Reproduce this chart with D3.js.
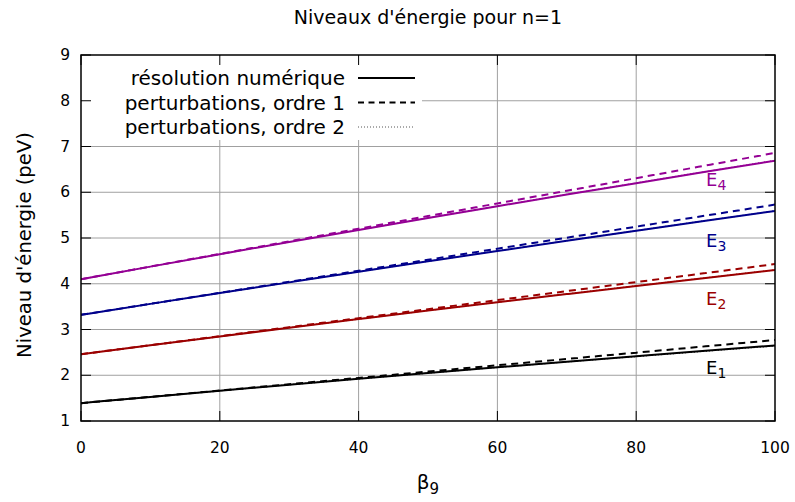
<!DOCTYPE html>
<html><head><meta charset="utf-8">
<script src="https://cdn.jsdelivr.net/npm/d3@7"></script>
<style>body{margin:0;background:#fff}svg{display:block}text{font-family:"DejaVu Sans",sans-serif}</style>
</head><body><svg id="c" width="795" height="502"></svg>
<script>
const beta = [0,10,20,30,40,50,60,70,80,90,100];
const xTicks = [0,20,40,60,80,100];
const yTicks = [1,2,3,4,5,6,7,8,9];
// résolution numérique
const numE1 = [1.39,1.527,1.661,1.793,1.923,2.05,2.175,2.297,2.417,2.535,2.65];
const numE2 = [2.46,2.656,2.849,3.039,3.227,3.413,3.595,3.775,3.953,4.128,4.30];
const numE3 = [3.32,3.560,3.796,4.030,4.262,4.490,4.716,4.938,5.158,5.376,5.59];
const numE4 = [4.10,4.374,4.645,4.913,5.177,5.438,5.695,5.949,6.199,6.446,6.69];
// perturbations, ordre 1
const p1E1 = [1.39,1.528,1.666,1.804,1.942,2.08,2.218,2.356,2.494,2.632,2.77];
const p1E2 = [2.46,2.657,2.854,3.051,3.248,3.445,3.642,3.839,4.036,4.233,4.43];
const p1E3 = [3.32,3.561,3.802,4.043,4.284,4.525,4.766,5.007,5.248,5.489,5.73];
const p1E4 = [4.10,4.376,4.652,4.928,5.204,5.48,5.756,6.032,6.308,6.584,6.86];
// perturbations, ordre 2
const p2E1 = [1.39,1.527,1.661,1.792,1.921,2.047,2.170,2.292,2.411,2.527,2.64];
const p2E2 = [2.46,2.656,2.849,3.040,3.228,3.414,3.597,3.777,3.955,4.130,4.302];
const p2E3 = [3.32,3.560,3.797,4.031,4.263,4.492,4.718,4.941,5.161,5.379,5.594];
const p2E4 = [4.10,4.374,4.646,4.914,5.179,5.440,5.698,5.953,6.204,6.452,6.696];
const levels = ["1","2","3","4"];
const colors = ["#000000","#9b0000","#00008b","#940094"];
const labelY = [2.18,3.69,4.96,6.28];
const legendLabels = ["résolution numérique","perturbations, ordre 1","perturbations, ordre 2"];

const svg = d3.select("#c");
const L=81,R=775,T=55,B=421;
const x = d3.scaleLinear().domain([0,100]).range([L,R]);
const y = d3.scaleLinear().domain([1,9]).range([B,T]);

// grid
const g = svg.append("g");
g.selectAll("line.vx").data(xTicks.slice(1,-1)).join("line")
 .attr("x1",d=>x(d)).attr("x2",d=>x(d)).attr("y1",T).attr("y2",B)
 .attr("stroke","#a0a0a0").attr("stroke-width",1);
g.selectAll("line.hy").data(yTicks.slice(1,-1)).join("line")
 .attr("y1",d=>y(d)).attr("y2",d=>y(d)).attr("x1",L).attr("x2",R)
 .attr("stroke","#a0a0a0").attr("stroke-width",1);

// curves
const line = d3.line().x((d,i)=>x(beta[i])).y(d=>y(d)).curve(d3.curveMonotoneX);
svg.append("clipPath").attr("id","cp").append("rect").attr("x",L).attr("y",T).attr("width",R-L).attr("height",B-T);
const cg = svg.append("g").attr("clip-path","url(#cp)");
const p2=[p2E1,p2E2,p2E3,p2E4], p1=[p1E1,p1E2,p1E3,p1E4], nm=[numE1,numE2,numE3,numE4];
p2.forEach((s,i)=>cg.append("path").attr("d",line(s)).attr("fill","none").attr("stroke",colors[i]).attr("stroke-width",1.2).attr("stroke-dasharray","1,2"));
p1.forEach((s,i)=>cg.append("path").attr("d",line(s)).attr("fill","none").attr("stroke",colors[i]).attr("stroke-width",2).attr("stroke-dasharray","7,5"));
nm.forEach((s,i)=>cg.append("path").attr("d",line(s)).attr("fill","none").attr("stroke",colors[i]).attr("stroke-width",2));

// legend box
svg.append("rect").attr("x",L+1).attr("y",T+1).attr("width",340).attr("height",84).attr("fill","#fff");
const styles=[{w:2,da:null,c:"#000"},{w:2,da:"6,4.5",c:"#000"},{w:1,da:"1,2",c:"#555"}];
legendLabels.forEach((t,i)=>{
  const yy=78+i*24.5;
  svg.append("text").attr("x",345).attr("y",yy).attr("text-anchor","end").attr("dominant-baseline","central").attr("font-size",20).text(t);
  svg.append("line").attr("x1",358).attr("x2",415).attr("y1",yy).attr("y2",yy)
    .attr("stroke",styles[i].c).attr("stroke-width",styles[i].w).attr("stroke-dasharray",styles[i].da);
});

// axes ticks (inward, mirrored)
const ax = svg.append("g");
const tl=10;
xTicks.forEach(d=>{
  ax.append("line").attr("x1",x(d)).attr("x2",x(d)).attr("y1",B).attr("y2",B-tl).attr("stroke","#000");
  ax.append("line").attr("x1",x(d)).attr("x2",x(d)).attr("y1",T).attr("y2",T+tl).attr("stroke","#000");
});
yTicks.forEach(d=>{
  ax.append("line").attr("x1",L).attr("x2",L+tl).attr("y1",y(d)).attr("y2",y(d)).attr("stroke","#000");
  ax.append("line").attr("x1",R).attr("x2",R-tl).attr("y1",y(d)).attr("y2",y(d)).attr("stroke","#000");
});
svg.append("rect").attr("x",L).attr("y",T).attr("width",R-L).attr("height",B-T).attr("fill","none").attr("stroke","#000").attr("stroke-width",1.5);

svg.append("g").selectAll("text").data(xTicks).join("text")
 .attr("x",d=>x(d)).attr("y",453).attr("text-anchor","middle").attr("font-size",15.5).text(d=>d);
svg.append("g").selectAll("text").data(yTicks).join("text")
 .attr("x",70).attr("y",d=>y(d)).attr("text-anchor","end").attr("dominant-baseline","central").attr("font-size",15.5).text(d=>d);

// labels E_n
levels.forEach((n,i)=>{
  const t=svg.append("text").attr("x",706).attr("y",y(labelY[i])).attr("fill",colors[i]).attr("font-size",18).attr("dominant-baseline","central");
  t.append("tspan").text("E");
  t.append("tspan").attr("font-size",14).attr("dy",6).text(n);
});

// titles
svg.append("text").attr("x",428).attr("y",24).attr("text-anchor","middle").attr("font-size",19).text("Niveaux d'énergie pour n=1");
const xl=svg.append("text").attr("x",428).attr("y",489).attr("text-anchor","middle").attr("font-size",20);
xl.append("tspan").text("β");
xl.append("tspan").attr("font-size",15).attr("dy",5).text("9");
svg.append("text").attr("transform","translate(24,245) rotate(-90)").attr("text-anchor","middle").attr("dominant-baseline","central").attr("font-size",19.6).text("Niveau d'énergie (peV)");
</script></body></html>
